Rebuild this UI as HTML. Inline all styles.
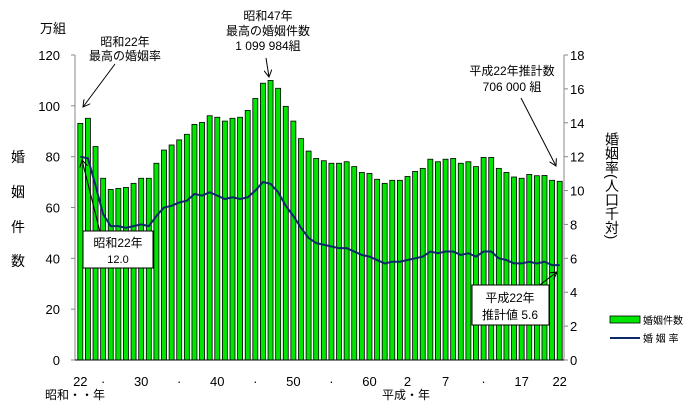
<!DOCTYPE html>
<html><head><meta charset="utf-8"><style>
body{margin:0;background:#fff;}
svg{font-family:"Liberation Sans","Noto Sans CJK JP",sans-serif;}
</style></head><body>
<svg id="c" width="687" height="410" viewBox="0 0 687 410">
<g id="g"></g>
</svg>
<script>
const years=[];for(let y=1947;y<=2010;y++)years.push(y);
const marriages=[93.1,95.1,84.0,71.5,67.1,67.5,67.9,69.5,71.5,71.5,77.4,82.6,84.6,86.6,88.8,92.7,93.5,96.1,95.5,94.0,95.1,95.5,98.2,102.9,108.9,110.0,106.9,99.8,94.0,87.1,82.2,79.3,78.4,77.4,77.4,78.0,76.1,73.8,73.4,71.1,69.5,70.7,70.7,72.2,74.2,75.4,79.0,78.0,79.0,79.3,77.4,78.0,76.1,79.7,79.7,75.4,73.8,72.0,71.5,73.0,72.5,72.6,70.7,70.3];
const rates=[12.0,11.9,10.3,8.6,7.9,7.9,7.8,7.9,8.0,7.9,8.5,9.0,9.1,9.3,9.4,9.8,9.7,9.9,9.7,9.5,9.6,9.5,9.6,10.0,10.5,10.4,9.9,9.1,8.5,7.8,7.2,6.9,6.8,6.7,6.6,6.6,6.4,6.2,6.1,5.9,5.7,5.8,5.8,5.9,6.0,6.1,6.4,6.3,6.4,6.4,6.2,6.3,6.1,6.4,6.4,6.0,5.9,5.7,5.7,5.8,5.7,5.8,5.6,5.6];
const leftTicks=[0,20,40,60,80,100,120];
const rightTicks=[0,2,4,6,8,10,12,14,16,18];
const xLabels=[[1947,"22"],[1950,"·"],[1955,"30"],[1960,"·"],[1965,"40"],[1970,"·"],[1975,"50"],[1980,"·"],[1985,"60"],[1990,"2"],[1995,"7"],[2000,"·"],[2005,"17"],[2010,"22"]];
const X0=75,X1=564,Y0=360,Y1=55;
const step=(X1-X0-2)/years.length;
const xs=y=>X0+1.5+(years.indexOf(y)+0.5)*step;
const yl=v=>Y0-(v/120)*(Y0-Y1);
const yr=v=>Y0-(v/18)*(Y0-Y1);
const g=document.getElementById('g');
const NS="http://www.w3.org/2000/svg";
function el(t,a,txt){const e=document.createElementNS(NS,t);for(const k in a)e.setAttribute(k,a[k]);if(txt!==undefined)e.textContent=txt;g.appendChild(e);return e;}
let e=el('line',{x1:X0,y1:Y1,x2:X0,y2:Y0,stroke:'#888'});


e=el('line',{x1:X1,y1:Y1,x2:X1,y2:Y0,stroke:'#888'});


leftTicks.forEach(v=>{
 el('line',{x1:X0-4,y1:yl(v),x2:X0,y2:yl(v),stroke:'#888'});
 e=el('text',{x:X0-15,y:yl(v)+5,'text-anchor':'end','font-size':13},v);
 
 
});
rightTicks.forEach(v=>{
 el('line',{x1:X1,y1:yr(v),x2:X1+4,y2:yr(v),stroke:'#888'});
 e=el('text',{x:X1+6,y:yr(v)+5,'font-size':13},v);
 
 
});
years.forEach((y,i)=>{
 const h=Y0-yl(marriages[i]);
 e=el('rect',{x:xs(y)-2.5,y:yl(marriages[i]),width:5,height:h,fill:'#00e600',stroke:'#000','stroke-width':0.8});
 
 
});
el('line',{x1:X0,y1:Y0,x2:X1,y2:Y0,stroke:'#000'});
e=el('polyline',{points:years.map((y,i)=>xs(y)+','+yr(rates[i])).join(' '),fill:'none',stroke:'#0c2a6a','stroke-width':2});


xLabels.forEach(([y,t])=>{
 e=el('text',{x:xs(y),y:386,'text-anchor':'middle','font-size':13},t);
 
 
});
</script>
<svg width="687" height="410" style="position:absolute;left:0;top:0" font-family="Liberation Sans, Noto Sans CJK JP, sans-serif" font-size="12">
<text x="40" y="33" font-size="13">万組</text>
<g font-size="14" text-anchor="middle"><text x="18" y="162">婚</text><text x="18" y="197">姻</text><text x="18" y="232">件</text><text x="18" y="266">数</text></g>
<text x="612" y="132" font-size="14" writing-mode="tb">婚姻率(人口千対)</text>
<text x="45" y="399" font-size="12">昭和・・年</text>
<text x="382" y="399" font-size="12">平成・年</text>
<g text-anchor="middle"><text x="125" y="46">昭和22年</text><text x="125" y="60">最高の婚姻率</text></g>
<line x1="115" y1="64" x2="83" y2="107" stroke="#000" marker-end="url(#ah2)"/>
<g text-anchor="middle"><text x="268" y="20">昭和47年</text><text x="268" y="35">最高の婚姻件数</text><text x="268" y="50">1 099 984組</text></g>
<line x1="266" y1="58" x2="269" y2="77" stroke="#000" marker-end="url(#ah2)"/>
<g text-anchor="middle"><text x="512" y="75">平成22年推計数</text><text x="512" y="91">706 000 組</text></g>
<line x1="521" y1="98" x2="556" y2="166" stroke="#000" marker-end="url(#ah2)"/>
<line x1="100" y1="232" x2="82" y2="160" stroke="#000" marker-end="url(#ah2)"/>
<rect x="83" y="231" width="70" height="37" fill="#fff" stroke="#000"/>
<g text-anchor="middle"><text x="118" y="247">昭和22年</text><text x="118" y="263" font-size="11">12.0</text></g>
<line x1="537" y1="287" x2="557" y2="272" stroke="#000" marker-end="url(#ah2)"/>
<rect x="472" y="285" width="77" height="40" fill="#fff" stroke="#000"/>
<g text-anchor="middle"><text x="510" y="302">平成22年</text><text x="510" y="319">推計値 5.6</text></g>
<defs><marker id="ah2" markerWidth="8" markerHeight="8" refX="7" refY="4" orient="auto"><path d="M0,0 L7,4 L0,8" fill="none" stroke="#000" stroke-width="1"/></marker></defs>
<rect x="610" y="316" width="30" height="7" fill="#00e600" stroke="#000" stroke-width="0.8"/>
<text x="643" y="324" font-size="10">婚姻件数</text>
<line x1="610" y1="338" x2="640" y2="338" stroke="#0c2a6a" stroke-width="2"/>
<text x="643" y="342" font-size="10">婚 姻 率</text>
</svg>
</body></html>
